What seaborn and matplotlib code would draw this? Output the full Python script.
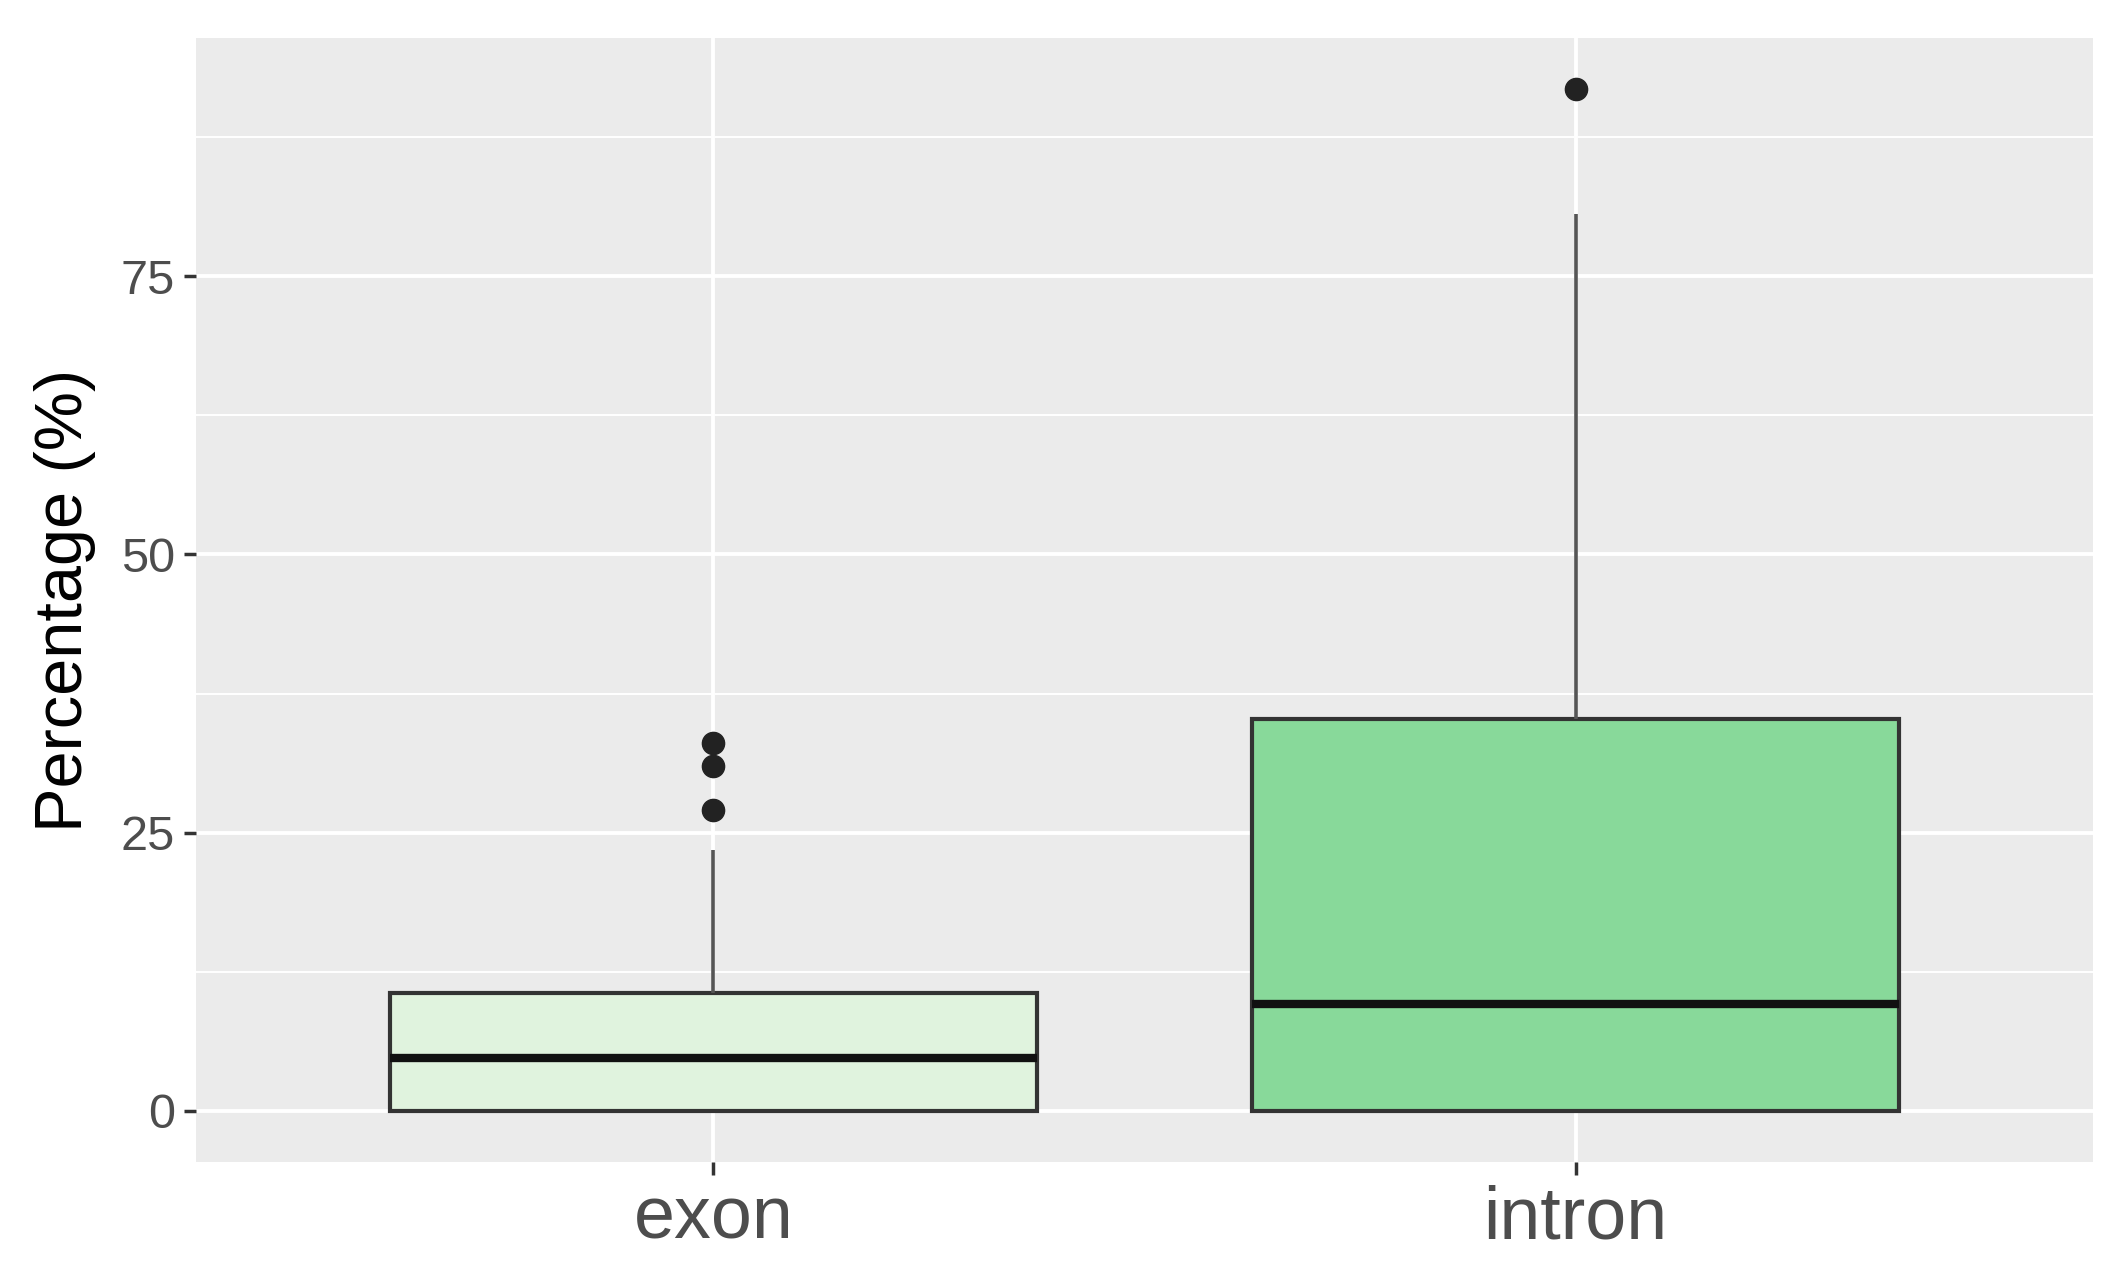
import pandas as pd
import seaborn as sns
from matplotlib import pyplot as plt
from matplotlib.ticker import MultipleLocator

# values (box stats: q1, median, q3, whisker top, outliers)
categories = ['exon', 'intron']
exon_pct = [0, 0, 0, 0, 0, 4.75, 4.75, 4.75, 4.75, 10.6, 10.6, 10.6, 10.6, 23.4, 27.0, 31.0, 33.1]
intron_pct = [0, 0, 0, 0, 9.6, 9.6, 9.6, 35.2, 35.2, 35.2, 35.2, 80.6, 91.8]
fill_colors = ['#E0F3DE', '#88D99A']
y_ticks = [0, 25, 50, 75]

df = pd.DataFrame({
    'region': ['exon'] * len(exon_pct) + ['intron'] * len(intron_pct),
    'pct': exon_pct + intron_pct,
})

sns.set_theme(style='darkgrid', rc={'axes.facecolor': '#EBEBEB', 'grid.color': 'white'})
plt.rcParams['font.family'] = ['Liberation Sans', 'DejaVu Sans']

fig = plt.figure(figsize=(21.24, 12.66), dpi=100)
ax = fig.add_axes([0.0923, 0.0821, 0.8931, 0.8879])

sns.boxplot(data=df, x='region', y='pct', hue='region', order=categories,
            palette=dict(zip(categories, fill_colors)), legend=False, saturation=1,
            width=0.75, linewidth=3, linecolor='#333333', showcaps=False,
            fliersize=16, ax=ax,
            flierprops=dict(marker='o', markerfacecolor='#222222', markeredgecolor='#222222'),
            medianprops=dict(color='#111111', linewidth=6),
            whiskerprops=dict(color='#555555', linewidth=2.6))

ax.set_xlim(-0.6, 1.6)
ax.set_ylim(-4.59, 96.39)
ax.set_yticks(y_ticks)
ax.yaxis.set_minor_locator(MultipleLocator(12.5))
ax.grid(which='major', color='white', linewidth=2.8)
ax.grid(which='minor', axis='y', color='white', linewidth=1.4)
ax.set_axisbelow(True)
for s in ax.spines.values():
    s.set_visible(False)

ax.tick_params(axis='both', which='major', length=9, width=2.5, color='#333333',
               labelcolor='#4D4D4D', bottom=True, left=True)
ax.tick_params(axis='y', labelsize=35, pad=6)
ax.tick_params(axis='x', labelsize=53, pad=7)
ax.tick_params(which='minor', length=0)

ax.set_xlabel('')
ax.set_ylabel('Percentage (%)', fontsize=48, color='black', labelpad=18)

fig.savefig('out.png', dpi=100)
